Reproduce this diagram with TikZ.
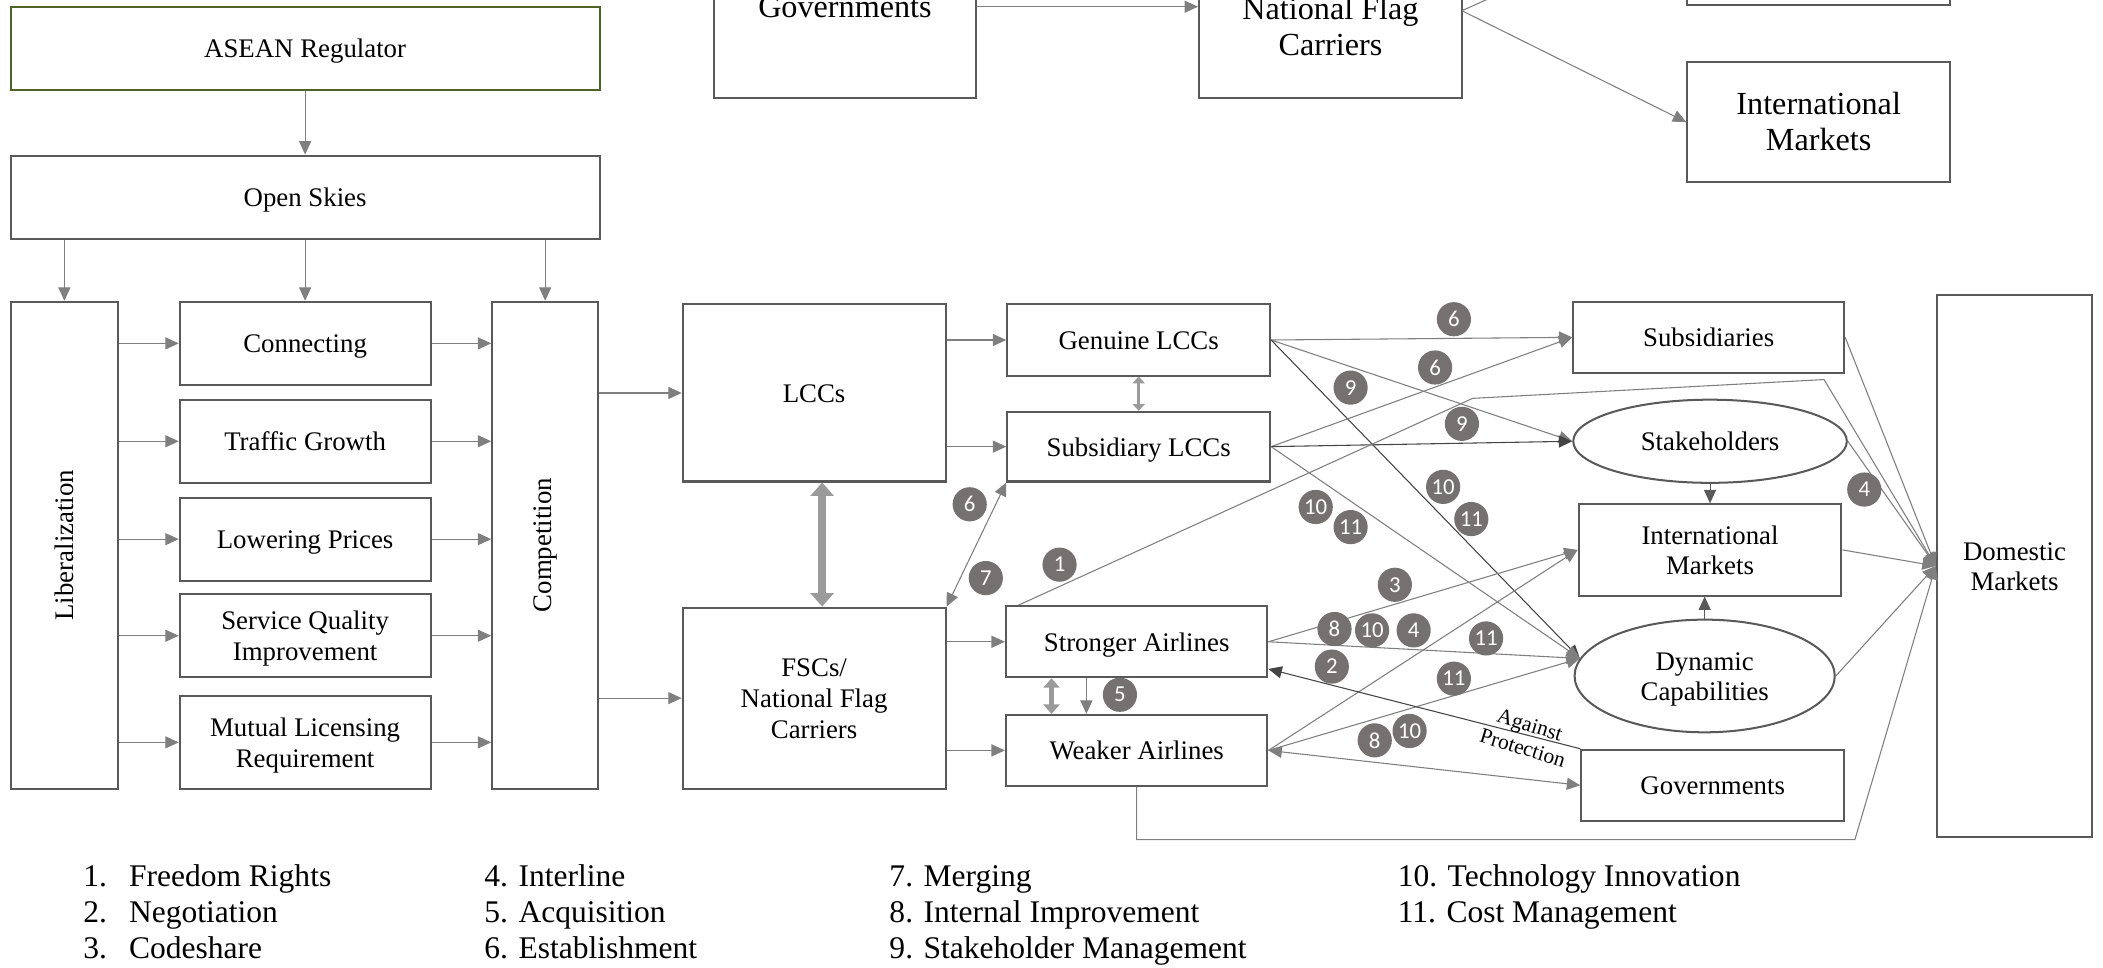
\documentclass[tikz,border=0pt]{standalone}
\usepackage{fontspec}
\setmainfont{Liberation Serif}
\newfontfamily\badgefont{Carlito}
\usetikzlibrary{arrows.meta,calc,shapes.geometric}
\definecolor{bord}{HTML}{595959}
\definecolor{lgray}{HTML}{7F7F7F}
\definecolor{dgray}{HTML}{454545}
\definecolor{bgray}{HTML}{767171}
\definecolor{agray}{HTML}{9A9A9A}
\definecolor{agreen}{HTML}{4F6228}
\newcommand{\lowtxt}[1]{\raisebox{-2.5pt}[\height][\depth]{\begin{tabular}{@{}c@{}}#1\end{tabular}}}
\begin{document}
\begin{tikzpicture}[x=1pt,y=-1pt,
  box/.style={draw=bord, line width=1.5pt, fill=white, inner sep=0pt, align=center, font=\fontsize{20}{23}\selectfont},
  tbox/.style={box, font=\fontsize{24}{27}\selectfont},
  ln/.style={draw=lgray, line width=0.8pt},
  arr/.style={ln, -{Triangle[length=10pt,width=9pt]}},
  darr/.style={ln, {Triangle[length=10pt,width=9pt]}-{Triangle[length=10pt,width=9pt]}},
  fat/.style={draw=agray, line width=6pt, {Triangle[length=10pt,width=17pt]}-{Triangle[length=10pt,width=17pt]}},
  midfat/.style={draw=agray, line width=4pt, {Triangle[length=7pt,width=12pt]}-{Triangle[length=7pt,width=12pt]}},
  smallfat/.style={draw=agray, line width=2.5pt, {Triangle[length=5pt,width=9pt]}-{Triangle[length=5pt,width=9pt]}},
  badge/.style={circle, fill=bgray, text=white, inner sep=0pt, minimum size=25.5pt, font=\badgefont\fontsize{17}{17}\selectfont},
  leg/.style={anchor=base west, inner sep=0pt, font=\fontsize{23.5}{27}\selectfont},
]
\useasboundingbox (0,0) rectangle (1568,721);
\clip (0,0) rectangle (1568,721);

% ---------- top (cropped) part ----------
\node[tbox, minimum width=196pt, minimum height=136pt] (tgov) at (630,5) {\lowtxt{Governments}};
\node[tbox, minimum width=196pt, minimum height=106pt] (tnfc) at (992,20) {\lowtxt{National Flag\\Carriers}};
\node[tbox, minimum width=196pt, minimum height=64pt] (tboxa) at (1356,-28) {};
\node[tbox, minimum width=196pt, minimum height=90pt] (tint) at (1356,91) {\lowtxt{International\\Markets}};
\draw[arr] (tgov.east) -- (tgov.east -| tnfc.west);
\coordinate (nfco) at (1090,8);
\coordinate (nfcup) at (1130,-10);
\draw[arr] (nfco) -- (tint.west);
\draw[ln] (nfco) -- (nfcup);

% ---------- left part ----------
\node[box, draw=agreen, minimum width=439pt, minimum height=62pt] (asean) at (227.5,36) {\lowtxt{ASEAN Regulator}};
\node[box, minimum width=439pt, minimum height=62pt] (open) at (227.5,147) {\lowtxt{Open Skies}};
\node[box, minimum width=80pt, minimum height=363pt] (lib) at (48,406.5) {\rotatebox{90}{Liberalization}};
\node[box, minimum width=187pt, minimum height=62pt] (conn) at (227.5,256) {\lowtxt{Connecting}};
\node[box, minimum width=187pt, minimum height=62pt] (traf) at (227.5,329) {\lowtxt{Traffic Growth}};
\node[box, minimum width=187pt, minimum height=62pt] (lowp) at (227.5,402) {\lowtxt{Lowering Prices}};
\node[box, minimum width=187pt, minimum height=62pt] (serv) at (227.5,474) {\lowtxt{Service Quality\\Improvement}};
\node[box, minimum width=187pt, minimum height=69pt] (mutu) at (227.5,553.5) {\lowtxt{Mutual Licensing\\Requirement}};
\node[box, minimum width=79pt, minimum height=363pt] (comp) at (406.5,406.5) {\rotatebox{90}{Competition}};

\draw[arr] (asean) -- (open);
\draw[arr] (open.south -| lib.north) -- (lib.north);
\draw[arr] (open) -- (conn);
\draw[arr] (open.south -| comp.north) -- (comp.north);
\foreach \n in {conn,traf,lowp,serv,mutu}{
  \draw[arr] (lib.east |- \n.west) -- (\n.west);
  \draw[arr] (\n.east) -- (\n.east -| comp.west);
}

% ---------- middle part ----------
\node[box, minimum width=196pt, minimum height=132pt] (lccs) at (607,293) {\lowtxt{LCCs}};
\node[box, minimum width=196pt, minimum height=135pt] (fscs) at (607,520.5) {\lowtxt{FSCs/\\National Flag\\Carriers}};
\node[box, minimum width=196pt, minimum height=53pt] (gen) at (849,253.5) {\lowtxt{Genuine LCCs}};
\node[box, minimum width=196pt, minimum height=52pt] (sub) at (849,333) {\lowtxt{Subsidiary LCCs}};
\node[box, minimum width=195pt, minimum height=53pt] (strong) at (847.5,478.5) {\lowtxt{Stronger Airlines}};
\node[box, minimum width=195pt, minimum height=53pt] (weak) at (847.5,559.5) {\lowtxt{Weaker Airlines}};

\draw[arr] (comp.east |- lccs.west) -- (lccs.west);
\draw[arr] (comp.east |- fscs.west) -- (fscs.west);
\draw[arr] (lccs.east |- gen.west) -- (gen.west);
\draw[arr] (lccs.east |- sub.west) -- (sub.west);
\draw[arr] (fscs.east |- strong.west) -- (strong.west);
\draw[arr] (fscs.east |- weak.west) -- (weak.west);
\draw[fat] ([xshift=6pt]lccs.south) -- ([xshift=6pt]fscs.north);
\draw[smallfat] (gen) -- (sub);
\draw[midfat] ([xshift=-63.5pt]strong.south) -- ([xshift=-63.5pt]weak.north);
\draw[arr] ([xshift=-37.5pt]strong.south) -- ([xshift=-37.5pt]weak.north);
\draw[darr] (fscs.north east) -- (sub.south west);

% ---------- right part ----------
\node[box, minimum width=202pt, minimum height=53pt] (subs) at (1274,251.5) {\lowtxt{Subsidiaries}};
\node[box, ellipse, minimum width=204pt, minimum height=62pt] (stake) at (1275,329) {\lowtxt{Stakeholders}};
\node[box, minimum width=196pt, minimum height=68pt] (intl) at (1275,410) {\lowtxt{International\\Markets}};
\node[box, ellipse, minimum width=194pt, minimum height=84pt] (dyn) at (1271,504) {\lowtxt{Dynamic\\Capabilities}};
\node[box, minimum width=196pt, minimum height=53pt] (govs) at (1277,585.5) {\lowtxt{Governments}};
\node[box, minimum width=116pt, minimum height=404pt] (dom) at (1502,422) {\lowtxt{Domestic\\Markets}};

\coordinate (dcin) at (dyn.172);
\draw[arr] (gen.east) -- (subs.west);
\draw[arr] (gen.east) -- (stake.west);
\draw[arr, draw=dgray] (gen.east) -- (dcin);
\draw[arr] (sub.east) -- (subs.west);
\draw[arr, draw=dgray] (sub.east) -- (stake.west);
\draw[arr] (sub.east) -- (dcin);
\draw[arr] (strong.east) -- (intl.west);
\draw[arr] (strong.east) -- (dcin);
\draw[arr] (weak.east) -- (intl.west);
\draw[arr] (weak.east) -- (dcin);
\draw[darr] (weak.east) -- (govs.west);
\draw[arr, draw=dgray] (govs.north west) -- ($(strong.south east)+(0,-7)$);
\node[font=\fontsize{16}{18}\selectfont, rotate=-17, align=center, inner sep=0pt] (agp) at (1138,549) {Against\\Protection};

\draw[arr, draw=bord] (stake.south) -- (intl.north);
\draw[arr, draw=bord] (dyn.north) -- (dyn.north |- intl.south);

\coordinate (wr1) at (1383,626);
\draw[arr] (weak.south) |- (wr1) -- (dom.west);
\coordinate (sr1) at (1098,297);
\coordinate (sr2) at (1360,283);
\draw[arr] ([xshift=10pt]strong.north west) -- (sr1) -- (sr2) -- (dom.west);
\foreach \n in {subs,stake,intl,dyn}{
  \draw[arr] (\n.east) -- (dom.west);
}

% ---------- badges ----------
\node[badge] (b01) at (1084,238) {6};
\node[badge] (b02) at (1070,274) {6};
\node[badge] (b03) at (1007,289) {9};
\node[badge] (b04) at (1090,316) {9};
\node[badge] (b05) at (981,378) {10};
\node[badge] (b06) at (1007,393) {11};
\node[badge] (b07) at (1076,363) {10};
\node[badge] (b08) at (1097,387) {11};
\node[badge] (b09) at (723,376) {6};
\node[badge] (b10) at (735,431) {7};
\node[badge] (b11) at (790,421) {1};
\node[badge] (b12) at (1040,436) {3};
\node[badge] (b13) at (995,469) {8};
\node[badge] (b14) at (1023,470) {10};
\node[badge] (b15) at (1054,470) {4};
\node[badge] (b16) at (1108,476) {11};
\node[badge] (b17) at (993,497) {2};
\node[badge] (b18) at (835,518) {5};
\node[badge] (b19) at (1084,506) {11};
\node[badge] (b20) at (1025,552) {8};
\node[badge] (b21) at (1051,545) {10};
\node[badge] (b22) at (1390,365) {4};

% ---------- legend ----------
\node[leg] (n1) at (62,661) {1.};
\node[leg] (l1) at (96,661) {Freedom Rights};
\node[leg] (n2) at (62,688) {2.};
\node[leg] (l2) at (96,688) {Negotiation};
\node[leg] (n3) at (62,715) {3.};
\node[leg] (l3) at (96,715) {Codeshare};
\node[leg] (l4) at (361,661) {4. Interline};
\node[leg] (l5) at (361,688) {5. Acquisition};
\node[leg] (l6) at (361,715) {6. Establishment};
\node[leg] (l7) at (663,661) {7. Merging};
\node[leg] (l8) at (663,688) {8. Internal Improvement};
\node[leg] (l9) at (663,715) {9. Stakeholder Management};
\node[leg] (l10) at (1042,661) {10. Technology Innovation};
\node[leg] (l11) at (1042,688) {11. Cost Management};
\end{tikzpicture}
\end{document}
